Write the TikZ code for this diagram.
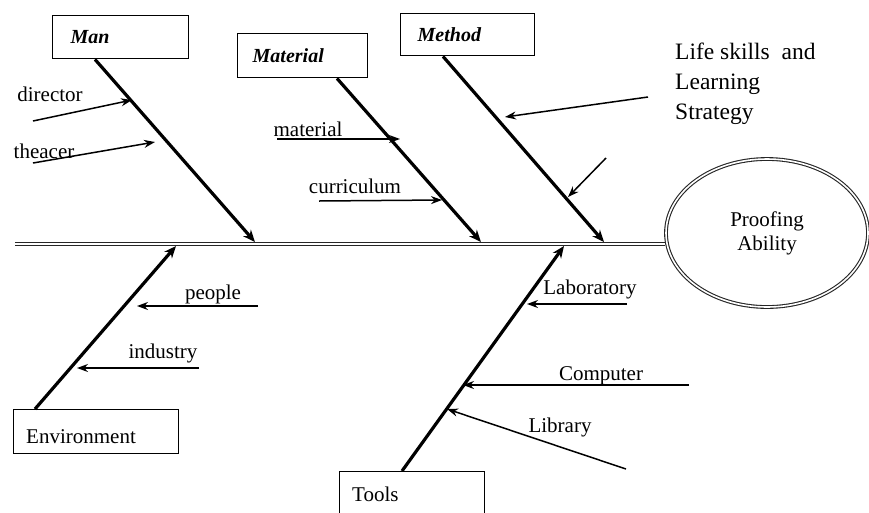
\documentclass[tikz,border=0pt]{standalone}
\usepackage{fontspec}
\setmainfont{Liberation Serif}
\usetikzlibrary{arrows.meta,shapes.geometric}
\begin{document}
\begin{tikzpicture}[x=1pt,y=-1pt,
  box/.style={draw,line width=1.4pt,anchor=north west,align=left,inner ysep=0pt,font=\fontsize{20}{24}\selectfont},
  lab/.style={font=\fontsize{21}{24}\selectfont,inner sep=0pt},
  bone/.style={line width=3.2pt,-{Stealth[length=12pt,width=10pt]}},
  sub/.style={line width=1.5pt,-{Stealth[length=11pt,width=8pt]}},
  spine/.style={double=white,line width=1.1pt,double distance=1.6pt,draw=black!85}]
\useasboundingbox (0,0) rectangle (869,512);
% head
\node[spine,draw,ellipse,minimum width=202pt,minimum height=148pt,inner sep=0pt,
  align=center,font=\fontsize{21}{24}\selectfont] (head) at (767,233) {Proofing\\Ability};
\coordinate (tail) at (15,244);
\draw[spine] (tail) -- (head.west |- 0,244);
% category boxes
\node[box,minimum width=125pt,minimum height=43pt,text width=100pt,inner xsep=18pt] (man) at (52,15) {\textbf{\textit{Man}}};
\node[box,minimum width=125pt,minimum height=44pt,text width=100pt,inner xsep=15pt] (material) at (237,33) {\raisebox{-2pt}{\textbf{\textit{Material}}}};
\node[box,minimum width=125pt,minimum height=42pt,text width=100pt,inner xsep=17pt] (method) at (400,13) {\textbf{\textit{Method}}};
\node[box,minimum width=165pt,text height=34pt,text depth=10pt,text width=140pt,inner xsep=10pt,font=\fontsize{21}{24}\selectfont] (env) at (13,409) {Environment};
\node[box,minimum width=145pt,text height=30pt,text depth=16pt,text width=120pt,inner xsep=10pt,font=\fontsize{21}{24}\selectfont] (tools) at (339,471) {Tools};
% bone end points
\coordinate (manE) at (255,242);
\coordinate (matE) at (481,242);
\coordinate (metE) at (604,242);
\coordinate (envE) at (176,246);
\coordinate (toolE) at (564,246);
\draw[bone] (man.south west -| 95,0) -- (manE);
\draw[bone] (material.south west -| 337,0) -- (matE);
\draw[bone] (method.south west -| 443,0) -- (metE);
\draw[bone] (env.north west -| 35,0) -- (envE);
\draw[bone] (tools.north west -| 402,0) -- (toolE);
% cause labels
\node[lab] (director) at (50,94) {director};
\node[lab] (theacer) at (44,151) {theacer};
\node[lab] (materialT) at (308,129) {material};
\node[lab] (curric) at (355,186) {curriculum};
\node[lab,font=\fontsize{23.5}{30}\selectfont,align=left,anchor=north west] (life) at (675,43) {Life skills\ \ and\\Learning\\Strategy};
\node[lab] (people) at (213,294) {people};
\node[lab] (industry) at (163,353) {industry};
\node[lab] (labT) at (590,289) {Laboratory};
\node[lab] (comp) at (601,376) {Computer};
\node[lab] (lib) at (560,427) {Library};
% sub arrow coordinates
\coordinate (d1) at (33,121); \coordinate (d2) at (132,100);
\coordinate (t1) at (33,163); \coordinate (t2) at (155,142);
\coordinate (m1) at (277,139); \coordinate (m2) at (400,139);
\coordinate (c1) at (319,201); \coordinate (c2) at (442,200);
\coordinate (l1) at (648,97); \coordinate (l2) at (505,117);
\coordinate (u1) at (606,158); \coordinate (u2) at (568,197);
\coordinate (p1) at (258,306); \coordinate (p2) at (137,306);
\coordinate (i1) at (199,368); \coordinate (i2) at (77,368);
\coordinate (a1) at (627,304); \coordinate (a2) at (527,304);
\coordinate (co1) at (689,385); \coordinate (co2) at (463,385);
\coordinate (b1) at (626,469); \coordinate (b2) at (447,409);
\draw[sub] (d1) -- (d2);
\draw[sub] (t1) -- (t2);
\draw[sub] (m1) -- (m2);
\draw[sub] (c1) -- (c2);
\draw[sub] (l1) -- (l2);
\draw[sub] (u1) -- (u2);
\draw[sub] (p1) -- (p2);
\draw[sub] (i1) -- (i2);
\draw[sub] (a1) -- (a2);
\draw[sub] (co1) -- (co2);
\draw[sub] (b1) -- (b2);
\end{tikzpicture}
\end{document}
